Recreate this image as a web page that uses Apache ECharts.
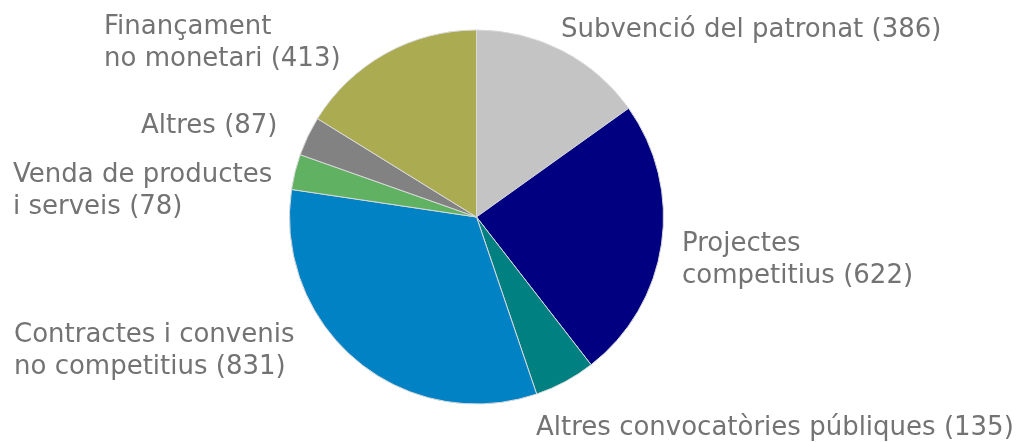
<!DOCTYPE html>
<html>
<head>
<meta charset="utf-8">
<script src="https://cdn.jsdelivr.net/npm/echarts@6/dist/echarts.min.js"></script>
<style>
  html, body { margin: 0; padding: 0; background: #fff; }
  #chart { width: 1029px; height: 442px; }
</style>
</head>
<body>
<div id="chart"></div>
<script>
// categories and values (clockwise from top)
const categories = [
  "Subvenció del patronat",
  "Projectes\ncompetitius",
  "Altres convocatòries públiques",
  "Contractes i convenis\nno competitius",
  "Venda de productes\ni serveis",
  "Altres",
  "Finançament\nno monetari"
];
const values = [386, 622, 135, 831, 78, 87, 413];
const colors = ["#c4c4c4", "#000080", "#008080", "#0082c4", "#60b262", "#828282", "#abab52"];

// label anchor (left edge, vertical middle) for each slice
const labelPos = [
  [561, 30],
  [682, 260],
  [536, 428],
  [14, 351],
  [13, 191],
  [141, 126],
  [104, 43]
];

const chart = echarts.init(document.getElementById("chart"));
chart.setOption({
  animation: false,
  series: [
    {
      type: "pie",
      center: [476.5, 217],
      radius: 187,
      startAngle: 90,
      clockwise: true,
      silent: true,
      itemStyle: {
        borderColor: "#d8d8d8",
        borderWidth: 1
      },
      label: {
        show: true,
        position: "outside",
        alignTo: "none",
        overflow: "none",
        fontFamily: "DejaVu Sans",
        fontSize: 26,
        lineHeight: 32,
        color: "#737373",
        formatter: (p) => p.name + " (" + p.value + ")"
      },
      labelLine: { show: false },
      labelLayout: function (params) {
        const pos = labelPos[params.dataIndex];
        return {
          x: pos[0],
          y: pos[1],
          align: "left",
          verticalAlign: "middle",
          width: 600
        };
      },
      data: categories.map((name, i) => ({
        name: name,
        value: values[i],
        itemStyle: { color: colors[i] }
      }))
    }
  ]
});
</script>
</body>
</html>
